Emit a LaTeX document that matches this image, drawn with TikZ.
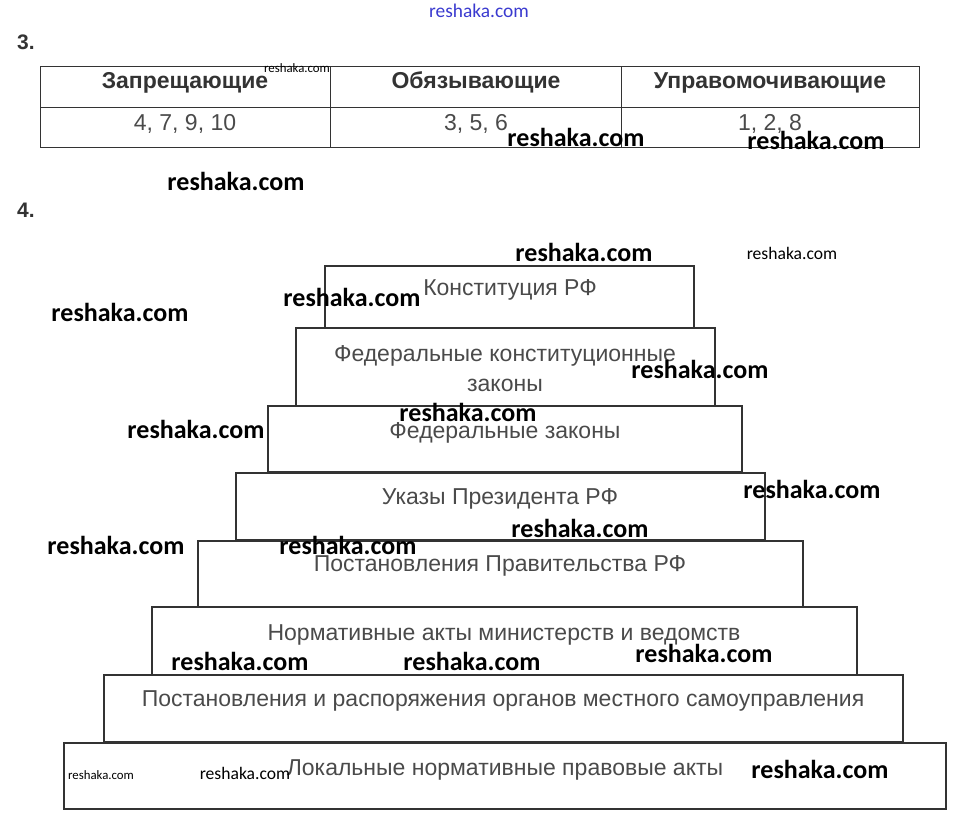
\documentclass[tikz,border=0pt]{standalone}
\usepackage{fontspec}
\setmainfont{Liberation Sans}
\newfontfamily\wmfont{Carlito}
\definecolor{txtgray}{HTML}{4A4A4A}
\definecolor{linegray}{HTML}{333333}
\definecolor{wmblue}{HTML}{3A3ACF}
\tikzset{
  tier/.style={draw=linegray, line width=1.6pt},
  tiertext/.style={text=txtgray, font=\fontsize{23}{30}\selectfont, inner sep=0pt, align=center, yshift=-2.5pt},
  cellhead/.style={text=linegray, font=\bfseries\fontsize{23}{26}\selectfont, inner sep=0pt, anchor=base},
  cellval/.style={text=txtgray, font=\fontsize{23}{26}\selectfont, inner sep=0pt, anchor=base},
  wmark/.style={font=\wmfont\bfseries\fontsize{26}{30}\selectfont, inner sep=0pt},
  wmsmall/.style={font=\wmfont\fontsize{12.8}{14}\selectfont, inner sep=0pt},
  wmmid/.style={font=\wmfont\fontsize{17.6}{19}\selectfont, inner sep=0pt}
}
\begin{document}
\begin{tikzpicture}[x=1pt, y=-1pt]
\useasboundingbox (0,0) rectangle (956,822);
% task 3
\node[cellhead, font=\bfseries\fontsize{21}{24}\selectfont] (n3) at (26,49) {3.};
\draw [linegray, line width=0.8pt] (40,66) rectangle (919,147);
\draw [linegray, line width=0.8pt] (40,107) -- (919,107);
\draw [linegray, line width=0.8pt] (330,66) -- (330,147);
\draw [linegray, line width=0.8pt] (621,66) -- (621,147);
\node[cellhead] (hzap) at (185,88) {Запрещающие};
\node[cellhead] (hobz) at (476,88) {Обязывающие};
\node[cellhead] (hupr) at (770,88) {Управомочивающие};
\node[cellval] (vzap) at (185,130) {4, 7, 9, 10};
\node[cellval] (vobz) at (476,130) {3, 5, 6};
\node[cellval] (vupr) at (770,130) {1, 2, 8};
% task 4
\node[cellhead, font=\bfseries\fontsize{21}{24}\selectfont] (n4) at (26,217) {4.};
\draw [tier] (325,266) rectangle (694,328);
\node[tiertext] (konst) at (510,287) {Конституция РФ};
\draw [tier] (296,328) rectangle (715,406);
\node[tiertext] (fkz) at (505,366) {Федеральные конституционные\\законы};
\draw [tier] (268,406) rectangle (742,472);
\node[tiertext] (fz) at (505,430) {Федеральные законы};
\draw [tier] (236,473) rectangle (765,540);
\node[tiertext] (ukaz) at (500,496) {Указы Президента РФ};
\draw [tier] (198,541) rectangle (803,607);
\node[tiertext] (postpr) at (500,563) {Постановления Правительства РФ};
\draw [tier] (152,607) rectangle (857,675);
\node[tiertext] (minist) at (504,632) {Нормативные акты министерств и ведомств};
\draw [tier] (104,675) rectangle (903,742);
\node[tiertext] (mestn) at (503,698) {Постановления и распоряжения органов местного самоуправления};
\draw [tier] (64,743) rectangle (946,809);
\node[tiertext] (lokal) at (505,767) {Локальные нормативные правовые акты};
% watermarks
\node[font=\wmfont\fontsize{19.4}{21}\selectfont, text=wmblue, inner sep=0pt] (wm0) at (479,11) {reshaka.com};
\node[wmsmall] (wm1) at (297,68) {reshaka.com};
\node[wmark] (wm2) at (576,137) {reshaka.com};
\node[wmark] (wm3) at (816,140) {reshaka.com};
\node[wmark] (wm4) at (236,181) {reshaka.com};
\node[wmark] (wm5) at (584,252) {reshaka.com};
\node[wmmid] (wm6) at (792,253) {reshaka.com};
\node[wmark] (wm7) at (352,297) {reshaka.com};
\node[wmark] (wm8) at (120,312) {reshaka.com};
\node[wmark] (wm9) at (700,369) {reshaka.com};
\node[wmark] (wm10) at (468,412) {reshaka.com};
\node[wmark] (wm11) at (196,429) {reshaka.com};
\node[wmark] (wm12) at (812,489) {reshaka.com};
\node[wmark] (wm13) at (580,528) {reshaka.com};
\node[wmark] (wm14) at (116,545) {reshaka.com};
\node[wmark] (wm15) at (348,545) {reshaka.com};
\node[wmark] (wm16) at (240,661) {reshaka.com};
\node[wmark] (wm17) at (472,661) {reshaka.com};
\node[wmark] (wm18) at (704,653) {reshaka.com};
\node[wmsmall] (wm19) at (101,775) {reshaka.com};
\node[wmmid] (wm20) at (245,773) {reshaka.com};
\node[wmark] (wm21) at (820,769) {reshaka.com};
\end{tikzpicture}
\end{document}
